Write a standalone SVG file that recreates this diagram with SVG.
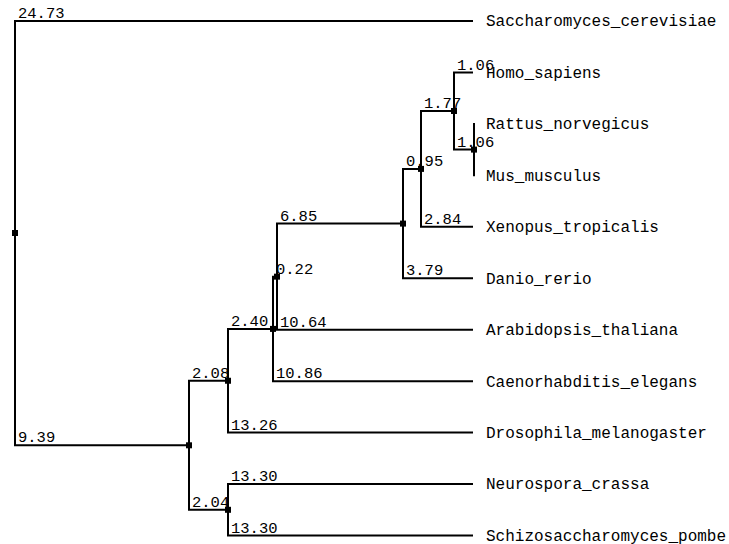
<svg xmlns="http://www.w3.org/2000/svg" width="729" height="544" viewBox="0 0 729 544">
<style>
.e{fill:none;stroke:#000;stroke-width:2;stroke-linecap:square}
.n{fill:#000}
text{font-family:"Liberation Mono","DejaVu Sans Mono",monospace;font-size:16px;fill:#000}
.bl{font-size:15.5px}
</style>
<rect width="729" height="544" fill="#fff"/>
<g id="connectors">
<path class="e" d="M15 233 V21 H472"/>
<path class="e" d="M15 233 V445.3 H189"/>
<path class="e" d="M189 445.3 V380.75 H228"/>
<path class="e" d="M189 445.3 V509.8 H228"/>
<path class="e" d="M228 380.75 V328.9 H273"/>
<path class="e" d="M228 380.75 V432.6 H472"/>
<path class="e" d="M228 509.8 V484.05 H472"/>
<path class="e" d="M228 509.8 V535.5 H472"/>
<path class="e" d="M273 328.9 V276.65 H277"/>
<path class="e" d="M273 328.9 V381.15 H472"/>
<path class="e" d="M277 276.65 V223.6 H403"/>
<path class="e" d="M277 276.65 V329.7 H472"/>
<path class="e" d="M403 223.6 V168.9 H421"/>
<path class="e" d="M403 223.6 V278.25 H472"/>
<path class="e" d="M421 168.9 V111 H454"/>
<path class="e" d="M421 168.9 V226.8 H472"/>
<path class="e" d="M454 111 V72.45 H472"/>
<path class="e" d="M454 111 V149.6 H474"/>
<path class="e" d="M474 149.6 V123.9"/>
<path class="e" d="M474 149.6 V175.35"/>
<g id="branch-labels">
<text class="bl" x="18" y="18">24.73</text>
<text class="bl" x="18" y="442">9.39</text>
<text class="bl" x="192" y="378">2.08</text>
<text class="bl" x="192" y="507">2.04</text>
<text class="bl" x="231" y="326">2.40</text>
<text class="bl" x="231" y="430">13.26</text>
<text class="bl" x="231" y="481">13.30</text>
<text class="bl" x="231" y="532.5">13.30</text>
<text class="bl" x="276" y="274">0.22</text>
<text class="bl" x="276" y="378">10.86</text>
<text class="bl" x="280" y="221">6.85</text>
<text class="bl" x="280" y="327">10.64</text>
<text class="bl" x="406" y="166">0.95</text>
<text class="bl" x="406" y="275">3.79</text>
<text class="bl" x="424" y="108">1.77</text>
<text class="bl" x="424" y="224">2.84</text>
<text class="bl" x="457" y="69.5">1.06</text>
<text class="bl" x="457" y="146.6">1.06</text>
</g>
</g>
<g id="root"><rect class="n" x="12" y="230" width="6" height="6"/></g>
<g id="node-939"><rect class="n" x="186" y="442.3" width="6" height="6"/></g>
<g id="node-208"><rect class="n" x="225" y="377.75" width="6" height="6"/></g>
<g id="node-204"><rect class="n" x="225" y="506.8" width="6" height="6"/></g>
<g id="node-240"><rect class="n" x="270" y="325.9" width="6" height="6"/></g>
<g id="node-022"><rect class="n" x="274" y="273.65" width="6" height="6"/></g>
<g id="node-685"><rect class="n" x="400" y="220.6" width="6" height="6"/></g>
<g id="node-095"><rect class="n" x="418" y="165.9" width="6" height="6"/></g>
<g id="node-177"><rect class="n" x="451" y="108" width="6" height="6"/></g>
<g id="node-106"><rect class="n" x="471" y="146.6" width="6" height="6"/></g>
<g id="leaf-saccharomyces"><text x="486" y="26">Saccharomyces_cerevisiae</text></g>
<g id="leaf-homo"><text x="486" y="77.5">Homo_sapiens</text></g>
<g id="leaf-rattus"><text x="486" y="129">Rattus_norvegicus</text></g>
<g id="leaf-mus"><text x="486" y="180.5">Mus_musculus</text></g>
<g id="leaf-xenopus"><text x="486" y="232">Xenopus_tropicalis</text></g>
<g id="leaf-danio"><text x="486" y="283.5">Danio_rerio</text></g>
<g id="leaf-arabidopsis"><text x="486" y="335">Arabidopsis_thaliana</text></g>
<g id="leaf-caenorhabditis"><text x="486" y="386.5">Caenorhabditis_elegans</text></g>
<g id="leaf-drosophila"><text x="486" y="438">Drosophila_melanogaster</text></g>
<g id="leaf-neurospora"><text x="486" y="489">Neurospora_crassa</text></g>
<g id="leaf-schizosaccharomyces"><text x="486" y="540.5">Schizosaccharomyces_pombe</text></g>
</svg>
